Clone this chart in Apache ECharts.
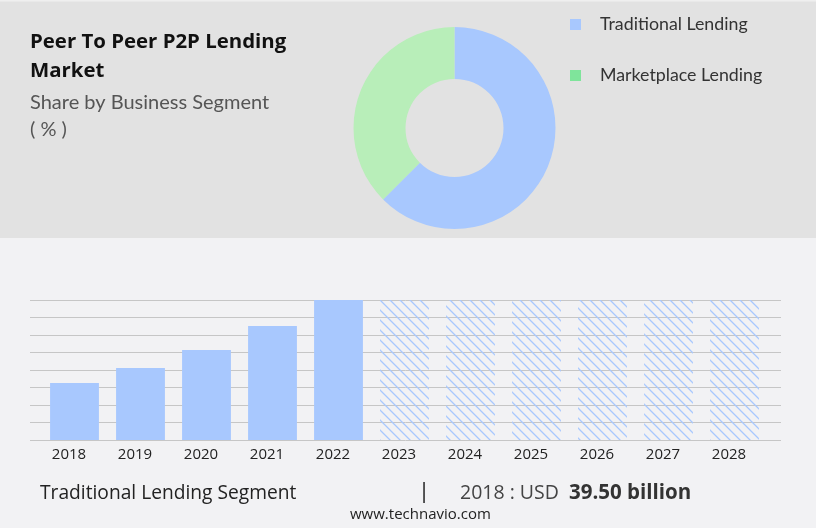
<!DOCTYPE html>
<html><head><meta charset="utf-8">
<script src="https://cdn.jsdelivr.net/npm/echarts@6/dist/echarts.min.js"></script>
<style>html,body{margin:0;padding:0;background:#f2f2f4}#c{width:816px;height:528px}</style>
</head><body><div id="c"></div>
<script>
// ---- data ----
const years = ['2018','2019','2020','2021','2022','2023','2024','2025','2026','2027','2028'];
const historicValues = [39.5, 49.9, 62.4, 79.0, 97.0, '-', '-', '-', '-', '-', '-'];
const forecastValues = ['-', '-', '-', '-', '-', 97, 97, 97, 97, 97, 97];
const segmentNames = ['Traditional Lending', 'Marketplace Lending'];
const segmentShares = [62.5, 37.5];
const axisMax = 97;
const axisSplits = 8;
const footerSegment = 'Traditional Lending Segment';
const footerYear = '2018';
const footerValue = '39.50 billion';

// ---- styles ----
const BLUE = '#a8c8fe';
const GREEN_PIE = '#b8eeb9';
const GREEN_LEGEND = '#7fe49b';
const SANS = '"Open Sans", "Noto Sans", sans-serif';
const GOTHIC = 'Lato, "Noto Sans", sans-serif';

const pc = document.createElement('canvas');
pc.width = 10; pc.height = 10;
const g = pc.getContext('2d');
g.strokeStyle = BLUE; g.lineWidth = 1.3;
g.beginPath();
[-10, 0, 10].forEach(k => { g.moveTo(k - 1, -1); g.lineTo(k + 11, 11); });
g.stroke();

const chart = echarts.init(document.getElementById('c'), null, {renderer: 'canvas'});
chart.setOption({
  animation: false,
  backgroundColor: '#f2f2f4',
  title: {
    text: 'Peer To Peer P2P Lending\nMarket',
    left: 30, top: 28, padding: 0, itemGap: 3,
    textStyle: {fontFamily: SANS, fontSize: 20.4, fontWeight: 'bold', color: '#111', lineHeight: 29},
    subtext: 'Share by Business Segment\n( % )',
    subtextStyle: {fontFamily: GOTHIC, fontSize: 20, color: '#555', lineHeight: 27}
  },
  legend: {
    orient: 'vertical', left: 570, top: 15.5, itemWidth: 11, itemHeight: 11, itemGap: 33,
    icon: 'rect', selectedMode: false, padding: 0,
    data: [
      {name: segmentNames[0], itemStyle: {color: BLUE}},
      {name: segmentNames[1], itemStyle: {color: GREEN_LEGEND}}
    ],
    textStyle: {fontFamily: GOTHIC, fontSize: 17.8, color: '#333', lineHeight: 17, padding: [0, 0, 0, 14]}
  },
  graphic: [
    {type: 'rect', z: -10, silent: true, shape: {x: 0, y: 0, width: 816, height: 238}, style: {fill: '#e2e2e2'}},
    {type: 'rect', z: -9, silent: true, shape: {x: 0, y: 0, width: 816, height: 1.5}, style: {fill: '#efefef'}},
    {type: 'text', silent: true, left: 40, top: 484,
      style: {text: footerSegment, fontFamily: SANS, fontSize: 19.2, fill: '#222'}},
    {type: 'text', silent: true, left: 418, top: 481,
      style: {text: '|', fontFamily: SANS, fontSize: 22, fill: '#222'}},
    {type: 'text', silent: true, left: 460, top: 483,
      style: {
        text: '{a|' + footerYear + ' : USD  }{b|' + footerValue + '}',
        rich: {
          a: {fontFamily: SANS, fontSize: 19.5, fill: '#444'},
          b: {fontFamily: SANS, fontSize: 20.5, fontWeight: 'bold', fill: '#333'}
        }
      }},
    {type: 'text', silent: true, left: 350, top: 507,
      style: {text: 'www.technavio.com', fontFamily: SANS, fontSize: 15, fill: '#222'}}
  ],
  grid: [
    {left: 30, right: 35, top: 300, height: 140},
    {left: 41.5, width: 726, top: 300, height: 140}
  ],
  xAxis: [
    {gridIndex: 0, type: 'value', min: 0, max: 1, show: false},
    {gridIndex: 1, type: 'category', data: years,
      axisLine: {show: false}, axisTick: {show: false},
      axisLabel: {fontFamily: SANS, fontSize: 15, color: '#222', margin: 7, padding: [0, 11, 0, 0]}}
  ],
  yAxis: [
    {gridIndex: 0, type: 'value', min: 0, max: axisMax, interval: axisMax / axisSplits,
      axisLabel: {show: false}, axisLine: {show: false}, axisTick: {show: false},
      splitLine: {show: true, lineStyle: {color: '#c6c6c6', width: 1}}},
    {gridIndex: 1, type: 'value', min: 0, max: axisMax, show: false, splitLine: {show: false}}
  ],
  series: [
    {
      type: 'pie', name: 'Share', silent: true,
      center: [454.5, 128], radius: [49, 101], startAngle: 90, clockwise: true,
      label: {show: false}, labelLine: {show: false},
      data: segmentNames.map((n, i) => ({name: n, value: segmentShares[i],
        itemStyle: {color: i === 0 ? BLUE : GREEN_PIE}}))
    },
    {
      type: 'bar', name: 'Historic', xAxisIndex: 1, yAxisIndex: 1, silent: true,
      barWidth: '74%', barGap: '-100%', data: historicValues,
      itemStyle: {color: BLUE}
    },
    {
      type: 'bar', name: 'Forecast', xAxisIndex: 1, yAxisIndex: 1, silent: true,
      barWidth: '74%', barGap: '-100%', data: forecastValues,
      itemStyle: {color: {image: pc, repeat: 'repeat'}}
    }
  ]
});
</script>
</body></html>
